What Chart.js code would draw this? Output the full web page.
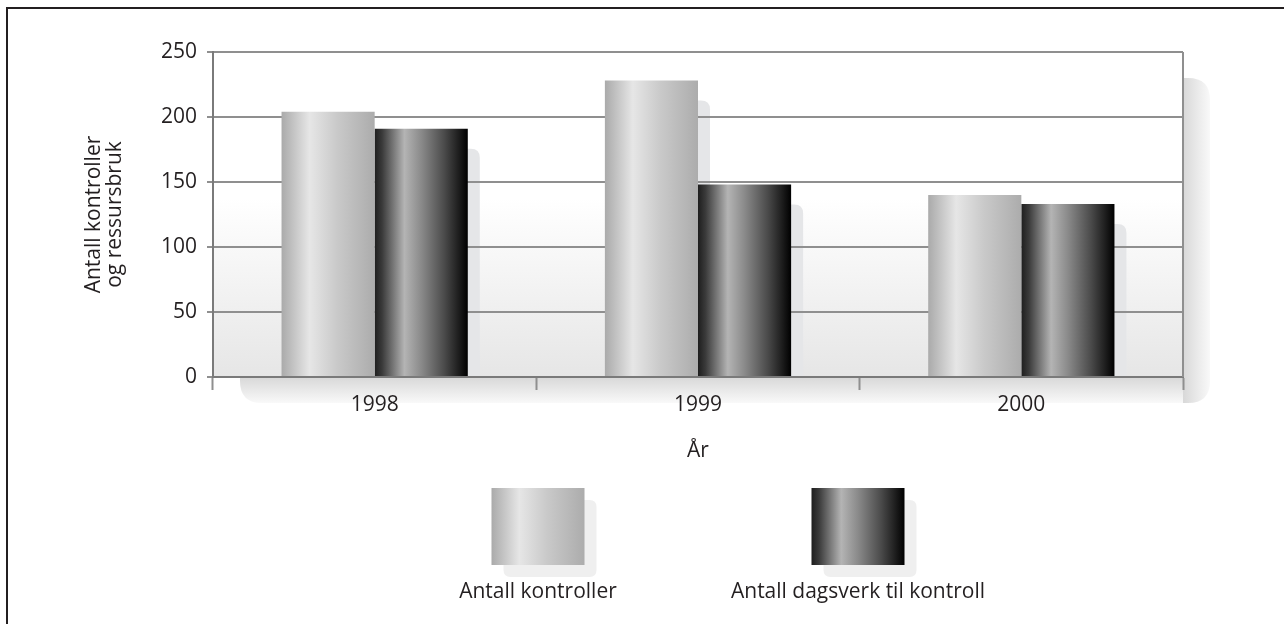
<!DOCTYPE html>
<html><head><meta charset="utf-8">
<script src="https://cdn.jsdelivr.net/npm/chart.js@4/dist/chart.umd.min.js"></script>
<style>html,body{margin:0;padding:0;background:#fff;overflow:hidden}</style>
</head><body>
<canvas id="c" width="1284" height="624" style="display:block;width:1284px;height:624px"></canvas>
<script>
const categories = ['1998', '1999', '2000'];
const seriesNames = ['Antall kontroller', 'Antall dagsverk til kontroll'];
const kontroller = [204, 228, 140];
const dagsverk = [191, 148, 133];
const yTickValues = [0, 50, 100, 150, 200, 250];
const yTitle = ['Antall kontroller', 'og ressursbruk'];
const xTitle = 'År';

const FONT = '"Open Sans", "Noto Sans", sans-serif';
const FS = 21;
const TEXT = '#231f20';
const GRID = '#8f8f8f';

const lightStops = [[0,'#aaaaaa'],[0.3,'#e6e6e6'],[0.6,'#c9c9c9'],[1,'#acacac']];
const darkStops = [[0,'#1e1e1e'],[0.08,'#3a3a3a'],[0.32,'#b4b4b4'],[0.5,'#8a8a8a'],[0.75,'#4a4a4a'],[0.9,'#1e1e1e'],[1,'#000000']];
const stopsFor = [lightStops, darkStops];

function hGrad(ctx, x0, x1, stops){
  const g = ctx.createLinearGradient(x0, 0, x1, 0);
  stops.forEach(s => g.addColorStop(s[0], s[1]));
  return g;
}
function rr(ctx, x, y, w, h, r){
  ctx.beginPath();
  ctx.moveTo(x + r, y);
  ctx.lineTo(x + w - r, y);
  ctx.quadraticCurveTo(x + w, y, x + w, y + r);
  ctx.lineTo(x + w, y + h - r);
  ctx.quadraticCurveTo(x + w, y + h, x + w - r, y + h);
  ctx.lineTo(x + r, y + h);
  ctx.quadraticCurveTo(x, y + h, x, y + h - r);
  ctx.lineTo(x, y + r);
  ctx.quadraticCurveTo(x, y, x + r, y);
  ctx.closePath();
}
function rrTop(ctx, x, y, w, h, r){
  ctx.beginPath();
  ctx.moveTo(x, y + h);
  ctx.lineTo(x, y);
  ctx.lineTo(x + w - r, y);
  ctx.quadraticCurveTo(x + w, y, x + w, y + r);
  ctx.lineTo(x + w, y + h);
  ctx.closePath();
}

const deco = {
  id: 'deco',
  beforeDraw(chart){
    const {ctx, chartArea: a} = chart;
    ctx.save();
    const sx = a.left + 27, sy = a.top + 26, sw = a.right - a.left, sh = a.bottom - a.top;
    rr(ctx, sx, sy, sw, sh, 22);
    ctx.clip();
    let g = ctx.createLinearGradient(a.right, 0, a.right + 27, 0);
    g.addColorStop(0, '#d8d8d8'); g.addColorStop(1, '#f9f9f9');
    ctx.fillStyle = g;
    ctx.fillRect(a.right, sy, 27, sh);
    g = ctx.createLinearGradient(0, a.bottom, 0, a.bottom + 26);
    g.addColorStop(0, '#d8d8d8'); g.addColorStop(1, '#f9f9f9');
    ctx.fillStyle = g;
    ctx.fillRect(sx, a.bottom, a.right - sx, 26);
    ctx.restore();
    ctx.save();
    g = ctx.createLinearGradient(0, a.top, 0, a.bottom);
    g.addColorStop(0, '#ffffff'); g.addColorStop(0.45, '#ffffff'); g.addColorStop(1, '#e6e6e6');
    ctx.fillStyle = g;
    ctx.fillRect(a.left, a.top, a.right - a.left, a.bottom - a.top);
    ctx.fillStyle = '#e5e6e8';
    chart.data.datasets.forEach((ds, i) => {
      chart.getDatasetMeta(i).data.forEach(bar => {
        const l = bar.x - bar.width / 2 + 12, t = bar.y + 20;
        rrTop(ctx, l, t, bar.width, bar.base - t, 9);
        ctx.fill();
      });
    });
    ctx.restore();
  },
  beforeDatasetsDraw(chart){
    const {ctx, chartArea: a} = chart;
    ctx.save();
    ctx.strokeStyle = GRID; ctx.lineWidth = 2;
    ctx.beginPath(); ctx.moveTo(a.right, a.top); ctx.lineTo(a.right, a.bottom); ctx.stroke();
    ctx.restore();
    chart.data.datasets.forEach((ds, i) => {
      chart.getDatasetMeta(i).data.forEach(bar => {
        const l = bar.x - bar.width / 2;
        bar.options = Object.assign({}, bar.options, {backgroundColor: hGrad(ctx, l, l + bar.width, stopsFor[i])});
      });
    });
  },
  afterDraw(chart){
    const {ctx, chartArea: a} = chart;
    ctx.save();
    const mid = (a.left + a.right) / 2;
    const centers = [mid - 160, mid + 160];
    const bw = 93, bh = 77, by = 488;
    chart.data.datasets.forEach((ds, i) => {
      const cx = centers[i], bx = cx - bw / 2;
      ctx.fillStyle = '#efefef';
      rr(ctx, bx + 12, by + 12, bw, bh, 7); ctx.fill();
      ctx.fillStyle = hGrad(ctx, bx, bx + bw, stopsFor[i]);
      ctx.fillRect(bx, by, bw, bh);
      ctx.fillStyle = TEXT;
      ctx.font = FS + 'px ' + FONT;
      ctx.textAlign = 'center'; ctx.textBaseline = 'middle';
      ctx.fillText(ds.label, cx, 592);
    });
    ctx.strokeStyle = '#231f20'; ctx.lineWidth = 2;
    ctx.beginPath(); ctx.moveTo(7, 624); ctx.lineTo(7, 8); ctx.lineTo(1284, 8); ctx.stroke();
    ctx.restore();
  }
};

new Chart(document.getElementById('c'), {
  type: 'bar',
  data: {
    labels: categories,
    datasets: [
      {label: seriesNames[0], data: kontroller, backgroundColor: '#cccccc', borderWidth: 0},
      {label: seriesNames[1], data: dagsverk, backgroundColor: '#555555', borderWidth: 0}
    ]
  },
  options: {
    responsive: false,
    devicePixelRatio: 1,
    animation: false,
    events: [],
    categoryPercentage: 0.576,
    barPercentage: 1,
    layout: {padding: {left: 0, top: 52, right: 101, bottom: 160}},
    plugins: {legend: {display: false}, tooltip: {enabled: false}},
    scales: {
      x: {
        offset: true,
        afterFit: s => { s.height = 87; },
        grid: {drawOnChartArea: false, tickLength: 13, tickColor: GRID, tickWidth: 2, offset: true},
        border: {color: '#7a7a7a', width: 2},
        ticks: {color: TEXT, font: {family: FONT, size: FS, lineHeight: 1.2}, padding: 2},
        title: {display: true, text: xTitle, color: TEXT, font: {family: FONT, size: FS, lineHeight: 1.2}, padding: {top: 0, bottom: 0}}
      },
      y: {
        min: 0, max: 250,
        afterFit: s => { s.width = 213; },
        afterBuildTicks: s => { s.ticks = yTickValues.map(v => ({value: v})); },
        grid: {color: GRID, lineWidth: 2, tickLength: 6, tickColor: GRID},
        border: {color: '#7a7a7a', width: 2},
        ticks: {color: TEXT, font: {family: FONT, size: FS}, padding: 10},
        title: {display: true, text: yTitle, color: TEXT, font: {family: FONT, size: FS, lineHeight: 1.0}, padding: {top: 84, bottom: 0}}
      }
    }
  },
  plugins: [deco]
});
</script>
</body></html>
